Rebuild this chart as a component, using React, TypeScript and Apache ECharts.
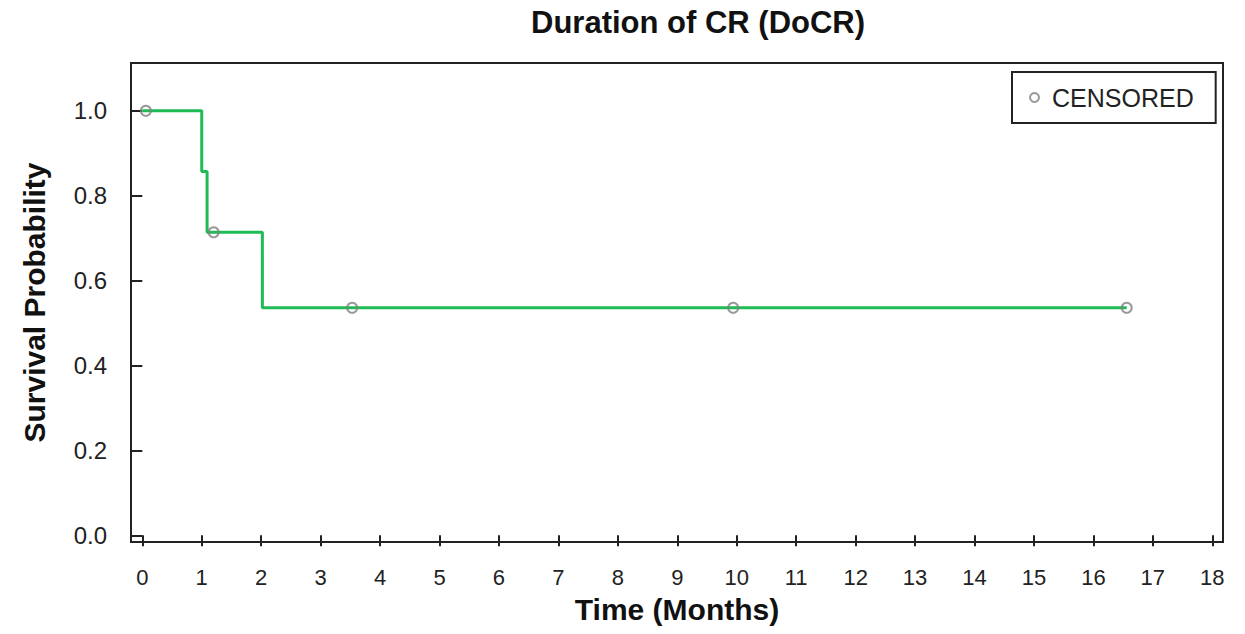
import React, { useEffect, useRef } from "react";
import * as echarts from "echarts";

// Kaplan-Meier step data (time in months, survival probability)
const stepTimes = [0, 1.0, 1.09, 2.02, 16.56];
const stepSurvival = [1.0, 0.857, 0.714, 0.536, 0.536];

// Censored observations
const censorTimes = [0.06, 1.2, 3.53, 9.94, 16.56];
const censorSurvival = [1.0, 0.714, 0.536, 0.536, 0.536];

// Tick values
const xTicks = [0, 1, 2, 3, 4, 5, 6, 7, 8, 9, 10, 11, 12, 13, 14, 15, 16, 17, 18];
const yTicks = [0, 0.2, 0.4, 0.6, 0.8, 1.0];

const titleText = "Duration of CR (DoCR)";
const xName = "Time (Months)";
const yName = "Survival Probability";
const censorName = "CENSORED";

const FONT = "Liberation Sans, Arial, Helvetica, sans-serif";

export default function App() {
  const ref = useRef<HTMLDivElement>(null);

  useEffect(() => {
    if (!ref.current) return;
    const chart = echarts.init(ref.current, null, { renderer: "svg" });
    const stepData = stepTimes.map((t, i) => [t, stepSurvival[i]]);
    const censorData = censorTimes.map((t, i) => [t, censorSurvival[i]]);

    chart.setOption({
      animation: false,
      backgroundColor: "#ffffff",
      textStyle: { fontFamily: FONT },
      title: {
        text: titleText,
        left: 526,
        top: 2,
        textStyle: { fontFamily: FONT, fontSize: 31, fontWeight: "bold", color: "#111" },
      },
      legend: {
        data: [censorName],
        left: 1012,
        top: 72,
        orient: "horizontal",
        padding: [13, 22, 13, 17],
        borderColor: "#222",
        borderWidth: 2,
        borderRadius: 0,
        itemWidth: 9,
        itemHeight: 9,
        icon: "circle",
        textStyle: { fontFamily: FONT, fontSize: 25, color: "#222", padding: [0, 0, 0, 8] },
      },
      grid: {
        left: 131,
        top: 63,
        width: 1092,
        height: 479,
        show: true,
        borderColor: "#222",
        borderWidth: 2,
        backgroundColor: "#fff",
        containLabel: false,
      },
      xAxis: {
        type: "value",
        min: -0.19,
        max: 18.18,
        name: xName,
        nameLocation: "middle",
        nameGap: 52,
        nameTextStyle: { fontFamily: FONT, fontSize: 30, fontWeight: "bold", color: "#111" },
        axisLine: { show: false },
        splitLine: { show: false },
        axisTick: {
          show: true,
          inside: false,
          length: 11,
          customValues: xTicks,
          lineStyle: { color: "#222", width: 2 },
        },
        axisLabel: {
          customValues: xTicks,
          margin: 24,
          fontFamily: FONT,
          fontSize: 22,
          color: "#222",
        },
      },
      yAxis: {
        type: "value",
        min: -0.0158,
        max: 1.1126,
        name: yName,
        nameLocation: "middle",
        nameGap: 82,
        nameRotate: 90,
        nameTextStyle: { fontFamily: FONT, fontSize: 30, fontWeight: "bold", color: "#111" },
        axisLine: { show: false },
        splitLine: { show: false },
        axisTick: {
          show: true,
          inside: false,
          length: 11,
          customValues: yTicks,
          lineStyle: { color: "#222", width: 2 },
        },
        axisLabel: {
          customValues: yTicks,
          margin: 24,
          fontFamily: FONT,
          fontSize: 24,
          color: "#222",
          formatter: (v: number) => v.toFixed(1),
        },
      },
      series: [
        {
          name: "DoCR",
          type: "line",
          step: "end",
          data: stepData,
          showSymbol: false,
          symbol: "none",
          lineStyle: { color: "#1fbb55", width: 3 },
          z: 2,
        },
        {
          name: censorName,
          type: "scatter",
          data: censorData,
          symbol: "circle",
          symbolSize: 10,
          itemStyle: { color: "rgba(255,255,255,0)", borderColor: "#808080", borderWidth: 2 },
          z: 3,
        },
      ],
    });

    return () => {
      chart.dispose();
    };
  }, []);

  return (
    <div
      ref={ref}
      style={{ position: "fixed", left: 0, top: 0, width: 1245, height: 634, background: "#fff" }}
    />
  );
}
